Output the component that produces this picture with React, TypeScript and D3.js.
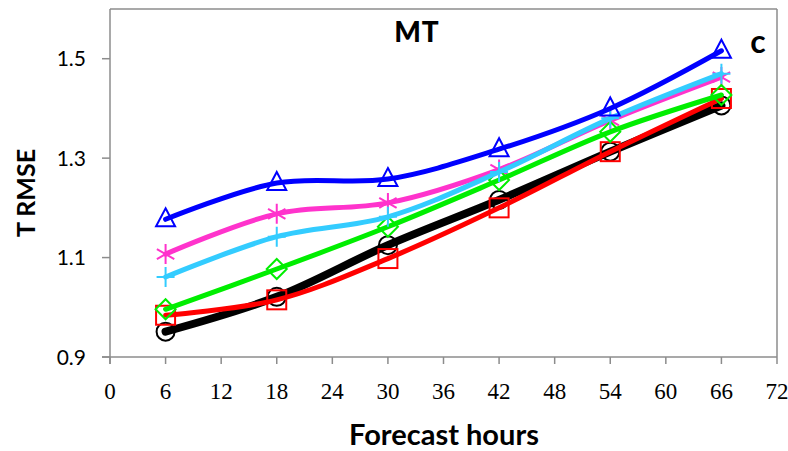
import React from "react";
import * as d3 from "d3";

const hours = [6, 18, 30, 42, 54, 66];
const xTicks = [0, 6, 12, 18, 24, 30, 36, 42, 48, 54, 60, 66, 72];
const yTicks = [0.9, 1.1, 1.3, 1.5];

const blackVals = [0.951, 1.021, 1.125, 1.216, 1.313, 1.406];
const redVals = [0.984, 1.015, 1.098, 1.2, 1.313, 1.42];
const magentaVals = [1.107, 1.188, 1.21, 1.277, 1.376, 1.463];
const greenVals = [0.996, 1.077, 1.162, 1.256, 1.353, 1.427];
const cyanVals = [1.061, 1.142, 1.182, 1.272, 1.38, 1.47];
const blueVals = [1.177, 1.25, 1.258, 1.318, 1.4, 1.516];

const seriesList = [
  { name: "black", values: blackVals, color: "#000000", width: 8, marker: "circle" },
  { name: "red", values: redVals, color: "#ff0000", width: 5, marker: "square" },
  { name: "magenta", values: magentaVals, color: "#ff33cc", width: 5, marker: "star" },
  { name: "green", values: greenVals, color: "#00ee00", width: 5, marker: "diamond" },
  { name: "cyan", values: cyanVals, color: "#33ccff", width: 5, marker: "plus" },
  { name: "blue", values: blueVals, color: "#0000ff", width: 5, marker: "triangle" },
];

const W = 788;
const H = 451;
const left = 110;
const right = 777;
const top = 9;
const bottom = 357;

const x = d3.scaleLinear().domain([0, 72]).range([left, right]);
const y = d3.scaleLinear().domain([0.9, 1.6]).range([bottom, top]);

const axisColor = "#8c8c8c";

function Marker({ kind, cx, cy, color }: { kind: string; cx: number; cy: number; color: string }) {
  const sw = 2;
  if (kind === "circle")
    return <circle cx={cx} cy={cy} r={9} fill="none" stroke={color} strokeWidth={sw} />;
  if (kind === "square")
    return <rect x={cx - 9.5} y={cy - 9.5} width={19} height={19} fill="none" stroke={color} strokeWidth={sw} />;
  if (kind === "diamond")
    return (
      <path
        d={`M${cx},${cy - 10}L${cx + 10},${cy}L${cx},${cy + 10}L${cx - 10},${cy}Z`}
        fill="none"
        stroke={color}
        strokeWidth={sw}
      />
    );
  if (kind === "triangle")
    return (
      <path
        d={`M${cx},${cy - 11}L${cx + 9.5},${cy + 7}L${cx - 9.5},${cy + 7}Z`}
        fill="none"
        stroke={color}
        strokeWidth={sw}
      />
    );
  if (kind === "plus")
    return (
      <path
        d={`M${cx - 9},${cy}L${cx + 9},${cy}M${cx},${cy - 10}L${cx},${cy + 10}`}
        fill="none"
        stroke={color}
        strokeWidth={sw}
      />
    );
  const r = 10;
  const d = r * 0.87;
  return (
    <path
      d={`M${cx},${cy - r}L${cx},${cy + r}M${cx - d},${cy - r / 2}L${cx + d},${cy + r / 2}M${cx - d},${cy + r / 2}L${cx + d},${cy - r / 2}`}
      fill="none"
      stroke={color}
      strokeWidth={sw}
    />
  );
}

export default function App() {
  const line = d3
    .line<number>()
    .x((_, i) => x(hours[i]))
    .y((v) => y(v))
    .curve(d3.curveCatmullRom.alpha(0.5));

  return (
    <div style={{ position: "absolute", left: 0, top: 0 }}>
      <svg width={W} height={H} style={{ display: "block", background: "#fff" }}>
        <rect x={0} y={0} width={W} height={H} fill="#fff" />
        <line x1={left} x2={right} y1={top} y2={top} stroke={axisColor} strokeWidth={1.5} />
        <line x1={right} x2={right} y1={top} y2={bottom} stroke={axisColor} strokeWidth={1.5} />
        <line x1={left} x2={left} y1={top} y2={bottom + 7} stroke={axisColor} strokeWidth={1.5} />
        <line x1={left - 8} x2={right} y1={bottom} y2={bottom} stroke={axisColor} strokeWidth={1.5} />
        {yTicks.map((t) => (
          <g key={"y" + t}>
            <line x1={left - 8} x2={left} y1={y(t)} y2={y(t)} stroke={axisColor} strokeWidth={1.5} />
            <text
              x={left - 24}
              y={y(t) + 7.5}
              textAnchor="end"
              fontFamily="Lato, 'Open Sans', sans-serif"
              fontSize={21}
              fill="#000"
            >
              {t.toFixed(1)}
            </text>
          </g>
        ))}
        {xTicks.map((t) => (
          <g key={"x" + t}>
            <line x1={x(t)} x2={x(t)} y1={bottom} y2={bottom + 7} stroke={axisColor} strokeWidth={1.5} />
            <text
              x={x(t)}
              y={bottom + 42}
              textAnchor="middle"
              fontFamily="'Liberation Serif', 'DejaVu Serif', serif"
              fontSize={23}
              fill="#000"
            >
              {t}
            </text>
          </g>
        ))}
        {seriesList.map((s) => (
          <g key={s.name}>
            <path d={line(s.values) || ""} fill="none" stroke={s.color} strokeWidth={s.width} strokeLinecap="round" strokeLinejoin="round" />
            {s.values.map((v, i) => (
              <Marker key={i} kind={s.marker} cx={x(hours[i])} cy={y(v)} color={s.color} />
            ))}
          </g>
        ))}
        <text x={417} y={42} textAnchor="middle" fontFamily="Lato, 'Open Sans', sans-serif" fontWeight="900" fontSize={28} letterSpacing={1} fill="#000">
          MT
        </text>
        <text x={758} y={53} textAnchor="middle" fontFamily="Lato, 'Open Sans', sans-serif" fontWeight="bold" fontSize={32} fill="#000">
          c
        </text>
        <text
          transform={`translate(35,${(top + bottom) / 2 + 10}) rotate(-90)`}
          textAnchor="middle"
          fontFamily="Lato, 'Open Sans', sans-serif"
          fontWeight="bold"
          fontSize={25}
          fill="#000"
        >
          T RMSE
        </text>
        <text x={444} y={445} textAnchor="middle" fontFamily="Lato, 'Open Sans', sans-serif" fontWeight="bold" fontSize={29} fill="#000">
          Forecast hours
        </text>
      </svg>
    </div>
  );
}
